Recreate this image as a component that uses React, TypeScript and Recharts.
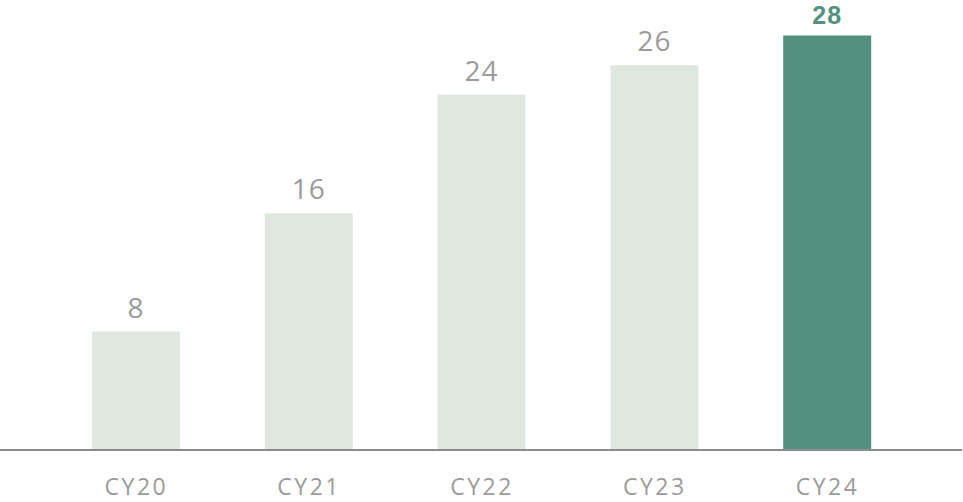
import React from "react";
import { BarChart, Bar, XAxis, YAxis, Cell, LabelList } from "recharts";

const categories = ["CY20", "CY21", "CY22", "CY23", "CY24"];
const values = [8, 16, 24, 26, 28];
const highlightCategory = "CY24";

const data = categories.map((c, i) => ({ name: c, value: values[i] }));

const LIGHT = "#dee8df";
const DARK = "#53907e";
const FONT = "'Open Sans', sans-serif";

const renderLabel = (props: any) => {
  const { x, y, width, value, index } = props;
  const hi = categories[index] === highlightCategory;
  return (
    <text
      x={x + width / 2}
      y={y - (hi ? 12 : 14)}
      textAnchor="middle"
      fontFamily={hi ? "'Liberation Sans', sans-serif" : FONT}
      fontSize={hi ? 25 : 28}
      fontWeight={hi ? 700 : 400}
      fill={hi ? DARK : "#9b9b9b"}
      letterSpacing={1}
    >
      {value}
    </text>
  );
};

export default function App() {
  return (
    <div style={{ position: "absolute", left: 0, top: 0, background: "#fff" }}>
      <BarChart
        width={963}
        height={502}
        data={data}
        margin={{ top: 6, right: 1, bottom: 0, left: 0 }}
        barCategoryGap={0}
      >
        <YAxis hide domain={[0, 30]} />
        <XAxis
          dataKey="name"
          height={52}
          padding={{ left: 50, right: 48 }}
          tickLine={false}
          tickSize={0}
          tickMargin={29}
          axisLine={{ stroke: "#8b8b90", strokeWidth: 2 }}
          tick={{ fill: "#9b9b9b", fontSize: 23, fontFamily: FONT, letterSpacing: 2.5 }}
          interval={0}
        />
        <Bar dataKey="value" barSize={88} isAnimationActive={false}>
          {data.map((d) => (
            <Cell key={d.name} fill={d.name === highlightCategory ? DARK : LIGHT} />
          ))}
          <LabelList dataKey="value" content={renderLabel} />
        </Bar>
      </BarChart>
    </div>
  );
}
